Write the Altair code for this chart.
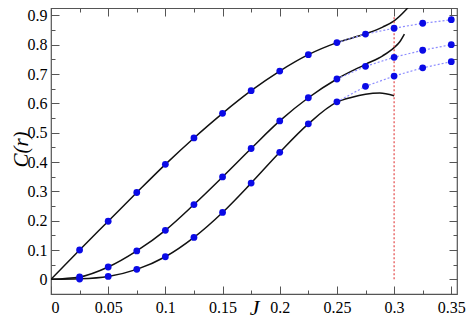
import altair as alt
import pandas as pd

# ---- data ----
J_pts = [0.025, 0.05, 0.075, 0.1, 0.125, 0.15, 0.175, 0.2, 0.225, 0.25, 0.275, 0.3, 0.325, 0.35]
C1_pts = [0.100, 0.198, 0.296, 0.392, 0.482, 0.566, 0.643, 0.710, 0.766, 0.807, 0.836, 0.856, 0.873, 0.885]
C2_pts = [0.008, 0.042, 0.097, 0.167, 0.255, 0.349, 0.446, 0.540, 0.619, 0.683, 0.726, 0.757, 0.781, 0.800]
C3_pts = [0.001, 0.010, 0.034, 0.077, 0.143, 0.228, 0.328, 0.433, 0.530, 0.605, 0.658, 0.693, 0.721, 0.742]

curve1_x = [0, 0.025, 0.05, 0.075, 0.1, 0.125, 0.15, 0.175, 0.2, 0.225, 0.25, 0.275, 0.29, 0.3, 0.31, 0.32]
curve1_y = [0, 0.100, 0.198, 0.296, 0.392, 0.482, 0.566, 0.643, 0.710, 0.766, 0.807, 0.837, 0.860, 0.881, 0.917, 0.965]
curve2_x = [0, 0.025, 0.05, 0.075, 0.1, 0.125, 0.15, 0.175, 0.2, 0.225, 0.25, 0.275, 0.29, 0.3, 0.305, 0.309]
curve2_y = [0, 0.008, 0.042, 0.097, 0.167, 0.255, 0.349, 0.446, 0.540, 0.619, 0.683, 0.733, 0.762, 0.790, 0.810, 0.836]
curve3_x = [0, 0.025, 0.05, 0.075, 0.1, 0.125, 0.15, 0.175, 0.2, 0.225, 0.25, 0.2625, 0.275, 0.2875, 0.3]
curve3_y = [0, 0.002, 0.010, 0.034, 0.077, 0.143, 0.228, 0.328, 0.433, 0.530, 0.604, 0.620, 0.631, 0.635, 0.626]

x_major = [0, 0.05, 0.1, 0.15, 0.2, 0.25, 0.3, 0.35]
x_minor = [0.025, 0.075, 0.125, 0.175, 0.225, 0.275, 0.325]
y_major = [0, 0.1, 0.2, 0.3, 0.4, 0.5, 0.6, 0.7, 0.8, 0.9]
y_minor = [0.05, 0.15, 0.25, 0.35, 0.45, 0.55, 0.65, 0.75, 0.85]

red_x = [0.3]
red_y0 = [0.0]
red_y1 = [0.9]

dotted_from = 0.25

# ---- tables ----
pts = pd.concat([
    pd.DataFrame({"J": J_pts, "C": C1_pts, "s": "1"}),
    pd.DataFrame({"J": J_pts, "C": C2_pts, "s": "2"}),
    pd.DataFrame({"J": J_pts, "C": C3_pts, "s": "3"}),
], ignore_index=True)
dots = pts[pts["J"] >= dotted_from - 1e-9]
curves = pd.concat([
    pd.DataFrame({"J": curve1_x, "C": curve1_y, "s": "1"}),
    pd.DataFrame({"J": curve2_x, "C": curve2_y, "s": "2"}),
    pd.DataFrame({"J": curve3_x, "C": curve3_y, "s": "3"}),
], ignore_index=True)
red = pd.DataFrame({"J": red_x, "y0": red_y0, "y1": red_y1})

W, H = 406, 286
FONT = "Liberation Serif, Times New Roman, DejaVu Serif, serif"
FRAME = "#555555"
xs = alt.Scale(domain=[0, 0.355], nice=False, zero=False)
ys = alt.Scale(domain=[-0.05, 0.925], nice=False, zero=False)


def tick_axis(orient, offset, values, size):
    return alt.Axis(orient=orient, offset=offset, values=values, tickSize=size,
                    labels=False, domain=False, grid=False, title=None,
                    tickColor=FRAME, tickWidth=1)


x_main = alt.Axis(orient="bottom", title="J", values=x_major, format="~g", ticks=False,
                  tickSize=0, domain=False, grid=False, labelFont=FONT, labelFontSize=16,
                  labelColor="black", labelPadding=5, titleFont=FONT, titleFontSize=22,
                  titleFontStyle="italic", titleFontWeight="normal", titleColor="black",
                  titleBaseline="alphabetic", titleY=20)
y_main = alt.Axis(orient="left", title="C(r)", values=y_major, format="~g", ticks=False,
                  tickSize=0, domain=False, grid=False, labelFont=FONT, labelFontSize=16,
                  labelColor="black", labelPadding=4, titleFont=FONT, titleFontSize=21,
                  titleFontStyle="italic", titleFontWeight="normal", titleColor="black",
                  titleAngle=270, titleBaseline="middle", titleX=-30, titleY=141)

curve_layer = alt.Chart(curves).mark_line(color="#111111", strokeWidth=1.5, clip=True,
                                          interpolate="monotone").encode(
    x=alt.X("J:Q", scale=xs, axis=x_main),
    y=alt.Y("C:Q", scale=ys, axis=y_main),
    detail="s:N",
    order="J:Q",
)

dot_layer = alt.Chart(dots).mark_line(color="#8c8cff", strokeWidth=1.2, strokeDash=[2, 2],
                                      clip=True).encode(
    x=alt.X("J:Q", scale=xs, axis=tick_axis("top", -H, x_major, 8)),
    y=alt.Y("C:Q", scale=ys, axis=tick_axis("right", -W, y_major, 8)),
    detail="s:N",
    order="J:Q",
)

red_layer = alt.Chart(red).mark_rule(color="#e03a3a", strokeWidth=1.1, strokeDash=[2, 2]).encode(
    x=alt.X("J:Q", scale=xs, axis=tick_axis("bottom", -H, x_major, 8)),
    y=alt.Y("y0:Q", scale=ys, axis=tick_axis("left", -W, y_major, 8)),
    y2="y1:Q",
)

pt_layer = alt.Chart(pts).mark_circle(color="#0a0ae6", size=46, opacity=1, clip=True).encode(
    x=alt.X("J:Q", scale=xs, axis=tick_axis("top", -H, x_minor, 4)),
    y=alt.Y("C:Q", scale=ys, axis=tick_axis("right", -W, y_minor, 4)),
)

ghost_layer = alt.Chart(red).mark_point(opacity=0).encode(
    x=alt.X("J:Q", scale=xs, axis=tick_axis("bottom", -H, x_minor, 4)),
    y=alt.Y("y0:Q", scale=ys, axis=tick_axis("left", -W, y_minor, 4)),
)

chart = alt.layer(curve_layer, dot_layer, red_layer, ghost_layer, pt_layer).resolve_axis(
    x="independent", y="independent"
).properties(
    width=W, height=H,
    autosize=alt.AutoSizeParams(type="none"),
    padding={"left": 43, "top": 0, "right": 9, "bottom": 24},
    background="white",
).configure_view(stroke=FRAME, strokeWidth=1.2)

chart.save("out.html", embed_options={"renderer": "svg", "actions": False})
